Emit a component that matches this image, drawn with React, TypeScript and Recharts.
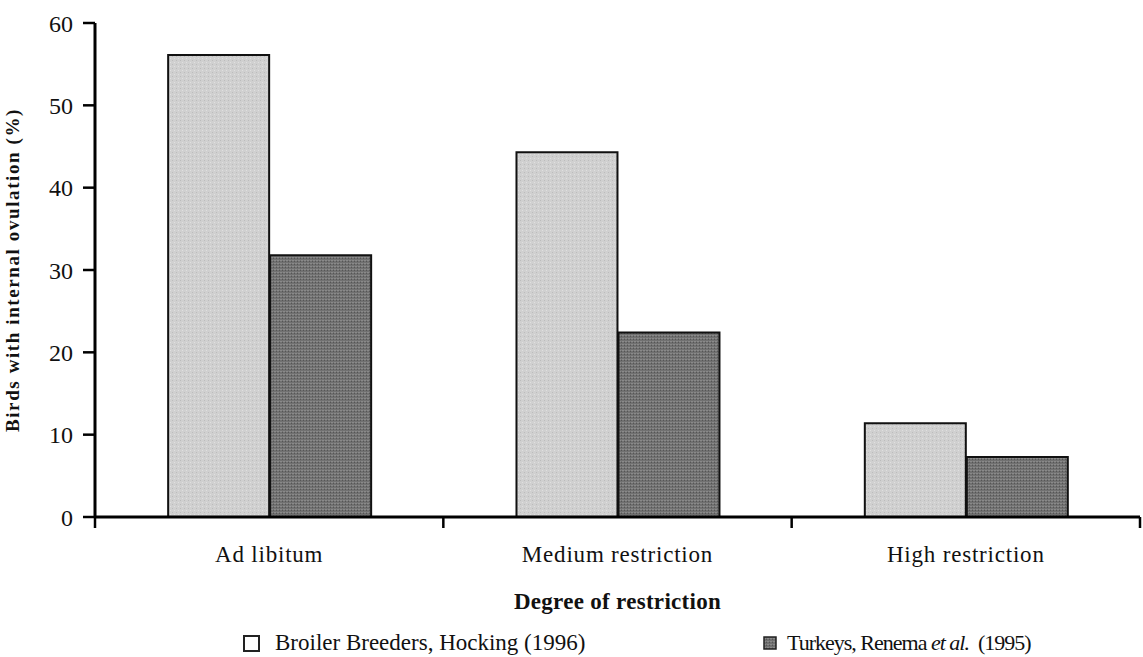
import React from 'react';
import { BarChart, Bar, XAxis, YAxis, Legend } from 'recharts';

const categories = ['Ad libitum', 'Medium restriction', 'High restriction'];
const broilerValues = [56.1, 44.3, 11.4];
const turkeyValues = [31.8, 22.4, 7.3];
const yTicks = [0, 10, 20, 30, 40, 50, 60];

const seriesNames = {
  broiler: 'Broiler Breeders, Hocking (1996)',
  turkey: 'Turkeys, Renema et al. (1995)',
};

const data = categories.map((name, i) => ({
  name,
  broiler: broilerValues[i],
  turkey: turkeyValues[i],
}));

const W = 1143;
const H = 657;
const PLOT_LEFT = 95;
const PLOT_RIGHT = 1140;
const BAND = (PLOT_RIGHT - PLOT_LEFT) / categories.length;
const FONT = '"Liberation Serif", "Times New Roman", serif';

// Category label centred in its band, with tick marks on the band edges
const CategoryTick = (props: any) => {
  const { x, y, payload, index } = props;
  const left = x - BAND / 2;
  const right = x + BAND / 2;
  return (
    <g>
      <line x1={left} y1={y - 8} x2={left} y2={y + 3} stroke="#000" strokeWidth={2.5} />
      {index === categories.length - 1 && (
        <line x1={right} y1={y - 8} x2={right} y2={y + 3} stroke="#000" strokeWidth={2.5} />
      )}
      <text
        x={x}
        y={y + 37}
        textAnchor="middle"
        fontFamily={FONT}
        fontSize={23}
        letterSpacing={0.8}
        fill="#111"
      >
        {payload.value}
      </text>
    </g>
  );
};

const LegendContent = () => (
  <div
    style={{
      position: 'relative',
      width: W,
      height: 30,
      fontFamily: FONT,
      fontSize: 23,
      color: '#111',
      lineHeight: '30px',
    }}
  >
    <span style={{ position: 'absolute', left: 243, top: 0, display: 'flex', alignItems: 'center' }}>
      <svg width={17} height={17} style={{ marginRight: 15 }}>
        <rect x={1} y={1} width={15} height={15} fill="#fff" stroke="#222" strokeWidth={2} />
      </svg>
      {seriesNames.broiler}
    </span>
    <span
      style={{
        position: 'absolute',
        left: 763,
        top: 0,
        display: 'flex',
        alignItems: 'center',
        fontSize: 22,
        letterSpacing: -1,
        whiteSpace: 'pre',
      }}
    >
      <svg width={14} height={14} style={{ marginRight: 10 }}>
        <rect x={1} y={1} width={12} height={12} fill="url(#darkTex)" stroke="#222" strokeWidth={1.5} />
      </svg>
      {'Turkeys, Renema '}<i>et al.</i>{'  (1995)'}
    </span>
  </div>
);

export default function App() {
  return (
    <div style={{ position: 'absolute', left: 0, top: 0, background: '#fff' }}>
      <BarChart
        width={W}
        height={H}
        data={data}
        margin={{ top: 23, right: W - PLOT_RIGHT, left: 0, bottom: 0 }}
        barCategoryGap="21%"
        barGap={1}
      >
        <defs>
          <pattern id="lightTex" width="4" height="4" patternUnits="userSpaceOnUse">
            <rect width="4" height="4" fill="#d0d0d0" />
            <rect x="0" y="0" width="1" height="1" fill="#bcbcbc" />
            <rect x="2" y="2" width="1" height="1" fill="#e0e0e0" />
          </pattern>
          <pattern id="darkTex" width="3" height="3" patternUnits="userSpaceOnUse">
            <rect width="3" height="3" fill="#717171" />
            <rect x="0" y="0" width="1" height="1" fill="#555" />
            <rect x="1" y="2" width="2" height="1" fill="#8a8a8a" />
          </pattern>
        </defs>
        <XAxis
          dataKey="name"
          axisLine={{ stroke: '#000', strokeWidth: 3 }}
          tickLine={false}
          tick={<CategoryTick />}
          interval={0}
          height={110}
          label={{
            value: 'Degree of restriction',
            position: 'insideTop',
            offset: 76,
            style: {
              fontFamily: FONT,
              fontSize: 23,
              fontWeight: 'bold',
              letterSpacing: 0.3,
              fill: '#111',
            },
          }}
        />
        <YAxis
          domain={[0, 60]}
          ticks={yTicks}
          width={PLOT_LEFT}
          axisLine={{ stroke: '#000', strokeWidth: 3 }}
          tickLine={{ stroke: '#000', strokeWidth: 2.5 }}
          tickSize={12}
          tickMargin={10}
          tick={{ fontFamily: FONT, fontSize: 24, fill: '#111' }}
          label={{
            value: 'Birds with internal ovulation (%)',
            angle: -90,
            position: 'insideLeft',
            offset: 12,
            style: {
              fontFamily: FONT,
              fontSize: 19,
              fontWeight: 'bold',
              letterSpacing: 1.6,
              fill: '#111',
              textAnchor: 'middle',
            },
          }}
        />
        <Bar
          dataKey="broiler"
          name={seriesNames.broiler}
          fill="url(#lightTex)"
          stroke="#111"
          strokeWidth={2}
          isAnimationActive={false}
        />
        <Bar
          dataKey="turkey"
          name={seriesNames.turkey}
          fill="url(#darkTex)"
          stroke="#111"
          strokeWidth={2}
          isAnimationActive={false}
        />
        <Legend content={<LegendContent />} wrapperStyle={{ left: 0, top: 628, width: W }} />
      </BarChart>
    </div>
  );
}
